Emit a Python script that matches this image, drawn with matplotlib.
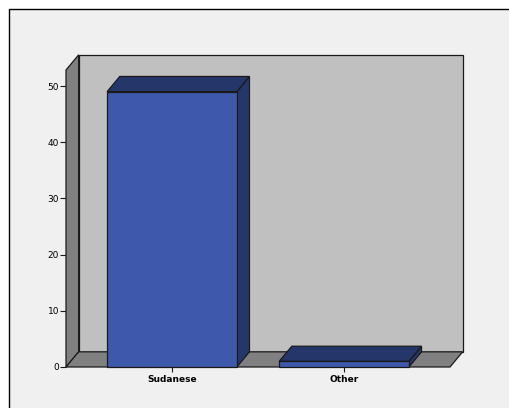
import matplotlib
matplotlib.use("Agg")
import matplotlib.pyplot as plt
from matplotlib.patches import Polygon, Rectangle

categories = ["Sudanese", "Other"]
counts = [49, 1]
y_ticks = [0, 10, 20, 30, 40, 50]

W, H = 509, 408
fig = plt.figure(figsize=(W / 100, H / 100), dpi=100)
fig.patch.set_facecolor("white")

# outer chart frame (runs off the right and bottom edges)
fig.patches.append(Rectangle((9 / W, -0.1), 1.2, 1.1 - 9 / H, transform=fig.transFigure,
                             facecolor="#F0F0F0", edgecolor="black", linewidth=1.0,
                             zorder=-10))

ymax = 52.85
ax = fig.add_axes([66 / W, (H - 367) / H, (450 - 66) / W, (367 - 70) / H])
ax.set_zorder(5)
ax.set_xlim(-0.616, 1.616)
ax.set_ylim(0, ymax)
ax.patch.set_visible(False)
for s in ax.spines.values():
    s.set_visible(False)

# depth of the 3D extrusion, in data units
dx, dy = 0.0735, 2.7
x0, x1 = ax.get_xlim()

wall_kw = dict(edgecolor="#1a1a1a", linewidth=0.9, clip_on=False, joinstyle="miter")
# back wall
ax.add_patch(Polygon([(x0 + dx, dy), (x1 + dx, dy), (x1 + dx, ymax + dy), (x0 + dx, ymax + dy)],
                     facecolor="#C0C0C0", zorder=1, **wall_kw))
# left side wall
ax.add_patch(Polygon([(x0, 0), (x0 + dx, dy), (x0 + dx, ymax + dy), (x0, ymax)],
                     facecolor="#808080", zorder=2, **wall_kw))
# floor
ax.add_patch(Polygon([(x0, 0), (x1, 0), (x1 + dx, dy), (x0 + dx, dy)],
                     facecolor="#808080", zorder=2, **wall_kw))

bw = 0.754
front_c, dark_c = "#3E58AB", "#25366B"
for i, v in enumerate(counts):
    l, r = i - bw / 2, i + bw / 2
    ax.add_patch(Polygon([(r, 0), (r + dx, dy), (r + dx, v + dy), (r, v)],
                         facecolor=dark_c, zorder=3, **wall_kw))
    ax.add_patch(Polygon([(l, v), (r, v), (r + dx, v + dy), (l + dx, v + dy)],
                         facecolor=dark_c, zorder=3, **wall_kw))
    ax.add_patch(Polygon([(l, 0), (r, 0), (r, v), (l, v)],
                         facecolor=front_c, zorder=4, **wall_kw))

ax.set_yticks(y_ticks)
ax.set_yticklabels([str(t) for t in y_ticks])
ax.set_xticks(range(len(categories)))
ax.set_xticklabels(categories, fontweight="bold")
ax.tick_params(axis="y", length=4.5, width=0.8, pad=0.5, labelsize=6.5, color="#1a1a1a")
ax.tick_params(axis="x", length=3.5, width=0.8, pad=2, labelsize=6.5, color="#1a1a1a")

fig.savefig("out.png", dpi=100, facecolor=fig.get_facecolor())
